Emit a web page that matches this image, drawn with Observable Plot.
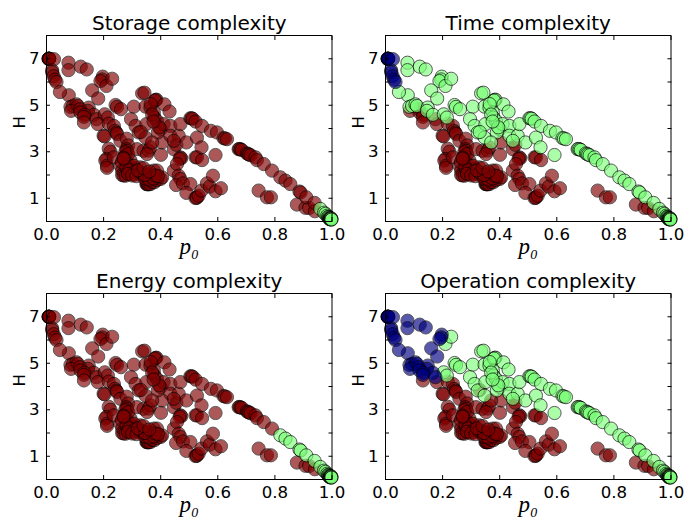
<!DOCTYPE html>
<html><head><meta charset="utf-8">
<script src="https://cdn.jsdelivr.net/npm/d3@7"></script>
<script src="https://cdn.jsdelivr.net/npm/@observablehq/plot@0.6"></script>
<style>
html,body{margin:0;padding:0;background:#fff}
#c{position:relative;width:697px;height:517px;overflow:hidden}
#c svg{position:absolute;overflow:visible;background:transparent}
</style></head><body><div id="c"></div>
<script>
const titles = ["Storage complexity","Time complexity","Energy complexity","Operation complexity"];
const xTicks = [0,0.2,0.4,0.6,0.8,1.0];
const yTicks = [1,2,3,4,5,6,7];
const colors = {r:"#800000", g:"#7dff7a", b:"#000080"};

// each list is [p0, H]
const corner = [[.007,7],[.008,7],[.008,7],[.009,7],[.009,7],[.01,7],[.026,6.98],[.02,6.5],[.02,6.42],[.025,6.25],[.03,6.1],[.035,6]];
const upperLeft = [[.077,6.83],[.077,6.51],[.12,6.66],[.141,6.54],[.197,6.23],[.195,6.11],[.189,6.04],[.16,5.64],[.181,5.29],[.078,5.43],[.047,5.57]];
const lowerGreenBlue = [[.084,4.93],[.093,4.97],[.105,5.04],[.11,4.97],[.148,4.9],[.145,4.76],[.166,4.59]];
const lowerRedBlue = [[.086,4.76],[.117,4.83],[.119,4.69],[.133,4.59],[.131,4.5],[.175,4.4]];
const lowerGreenGreen = [[.204,4.61],[.215,4.47],[.21,5.83],[.23,6.14],[.242,5.01],[.247,4.93],[.261,4.83]];
const lowerRed = [[.131,4.26],[.18,4.19],[.218,4.21],[.236,4.11],[.24,3.9],[.245,3.82],[.247,3.76],[.2,3.69],[.203,3.66],[.259,3.47],[.281,3.56],[.286,3.27],[.28,3.11],
 [.218,3.13],[.224,3],[.21,2.69],[.206,2.62],[.212,2.4],[.212,2.31],[.236,2.76],[.259,2.4],[.265,2.19],[.265,2],[.27,1.98],[.277,1.97],[.286,2.07],[.3,2.04],[.311,2.28],[.328,2.33],[.323,2.04],[.34,1.97],[.358,2.04],[.376,2.19],
 [.35,1.61],[.352,1.61],[.355,1.6],[.358,1.6],[.364,1.61],[.37,1.7],[.378,1.69],[.387,1.78],[.4,1.83],[.405,1.9],[.387,2.19],[.277,2.83],[.282,3.04],[.276,2.98],[.277,2.61],[.264,2.55],[.288,2.47],[.294,2.62],[.306,2.4],[.28,2.33],[.286,2.9],[.27,2.75],[.29,2.2],[.31,2.15],[.27,2.7],
 [.285,2.05],[.3,1.98],[.315,1.95],[.33,2.1],[.345,1.85],[.36,1.8],[.375,1.85],[.381,1.98],[.39,1.95],[.345,2],[.32,2.2],[.34,2.3],[.36,2.15],
 [.317,3.11],[.34,3.04],[.358,3.05],[.364,3.19],[.352,2.9],[.401,2.87],[.405,3.4],[.446,3.11],[.455,3.3],[.469,2.76],[.472,2.72],[.466,2.69],[.522,2.76],[.527,2.76],[.545,2.64],
 [.446,2.19],[.457,2.47],[.463,1.97],[.469,1.83],[.454,1.57],[.478,1.64],[.504,1.61],[.49,1.23],[.527,1.04],[.522,1.01],[.526,1.02],[.533,1.11],[.543,1.33],[.562,1.64],[.572,1.5],[.583,1.97],[.592,1.3],[.611,1.43],[.743,1.33],[.772,1.04],[.786,1.04],[.877,.73],[.907,.59],[.92,.58],[.94,.44]];
const upperMid = [[.335,5.51],[.343,5.54],[.306,4.94],[.347,4.94],[.364,4.9],[.382,5.23],[.385,5.24],[.38,5.2],[.413,5.04],[.431,4.73],[.376,4.69],[.378,4.47],[.296,4.4],[.312,4.11],[.323,3.83],[.35,4.19],[.347,3.61],[.387,4.33],[.4,3.97],[.39,3.83],[.41,4.19],[.434,4.11],[.434,3.69],[.463,3.69],[.469,4.19],[.504,4.44],[.508,4.44],[.512,4.42],[.522,4.3],[.545,4.11],[.576,3.9],[.597,3.83],[.62,3.59],[.625,3.57],[.632,3.54],[.49,3.4],[.527,3.61],[.543,3.19],[.592,2.86],[.446,3.47],[.365,5.05],[.37,4.6],[.395,4.05],[.375,4.3],
 [.673,3.11],[.676,3.12],[.68,3.1],[.684,3.08],[.702,2.93],[.706,2.9],[.71,2.88],[.715,2.85],[.732,2.76],[.737,2.64],[.761,2.47],[.79,2.19]];
const midGreenRed = [[.37,3.4],[.33,3.85]];
const curve = [[.819,1.9],[.837,1.76],[.854,1.61],[.886,1.29],[.89,1.25],[.91,1.04],[.939,.8]];
const tail = [[.959,.54],[.972,.38],[.977,.33],[.983,.25],[.986,.2],[.988,.19],[.99,.17],[.99,.12],[.992,.14],[.992,.11],[.993,.1],[.994,.13],[.995,.12],[.995,.09],[.996,.12],[.997,.11],[.997,.14],[.998,.1],[.998,.08]];

// class of each group in Storage, Time, Energy, Operation
const groups = [
 [corner,"rbrb"],[upperLeft,"rgrb"],[lowerGreenBlue,"rgrb"],[lowerRedBlue,"rrrb"],
 [lowerGreenGreen,"rgrg"],[lowerRed,"rrrr"],[upperMid,"rgrg"],[midGreenRed,"rgrr"],
 [curve,"rggg"],[tail,"gggg"]
];
const panelLeft = [0,339,0,339], panelTop = [0,0,258,258];

const c = document.getElementById("c");
titles.forEach((t,i)=>{
  const rows = groups.flatMap(([pts,k])=>pts.map(([p,h])=>({p,h,k:k[i]})));
  const dots = ["r","g","b"].map(k=>Plot.dot(rows.filter(d=>d.k===k),{x:"p",y:"h",r:6.6,fill:colors[k],stroke:"#000",strokeWidth:1,opacity:.65}));
  const tick = {tickSize:-4,stroke:"#000",fontSize:16.6};
  const svg = Plot.plot({
    width:345,height:258,marginLeft:46,marginRight:13.5,marginTop:35,marginBottom:37,
    style:{fontFamily:"DejaVu Sans",color:"#000",background:"transparent"},
    x:{domain:[0,1]},y:{domain:[0,8]},
    marks:[
      ...dots,
      Plot.frame({stroke:"#000",strokeWidth:1}),
      Plot.axisX(xTicks,{...tick,anchor:"bottom",tickPadding:11,tickFormat:d3.format(".1f"),label:null}),
      Plot.axisX(xTicks,{...tick,anchor:"top",tickFormat:()=>"",label:null}),
      Plot.axisY(yTicks,{...tick,anchor:"left",tickPadding:11,tickFormat:d=>d%2?d:"",label:null}),
      Plot.axisY(yTicks,{...tick,anchor:"right",tickFormat:()=>"",label:null}),
      Plot.text([t],{frameAnchor:"top",dy:-20,fontSize:20,fill:"#000"}),
      Plot.text(["p₀"],{frameAnchor:"bottom",dy:32,fontSize:23,fontStyle:"italic",fontFamily:"Liberation Serif",fill:"#000"}),
      Plot.text(["H"],{frameAnchor:"left",dx:-27,fontSize:16.6,rotate:-90,fill:"#000"})
    ]
  });
  svg.style.left = panelLeft[i]+"px";
  svg.style.top = panelTop[i]+"px";
  c.appendChild(svg);
});
</script></body></html>
